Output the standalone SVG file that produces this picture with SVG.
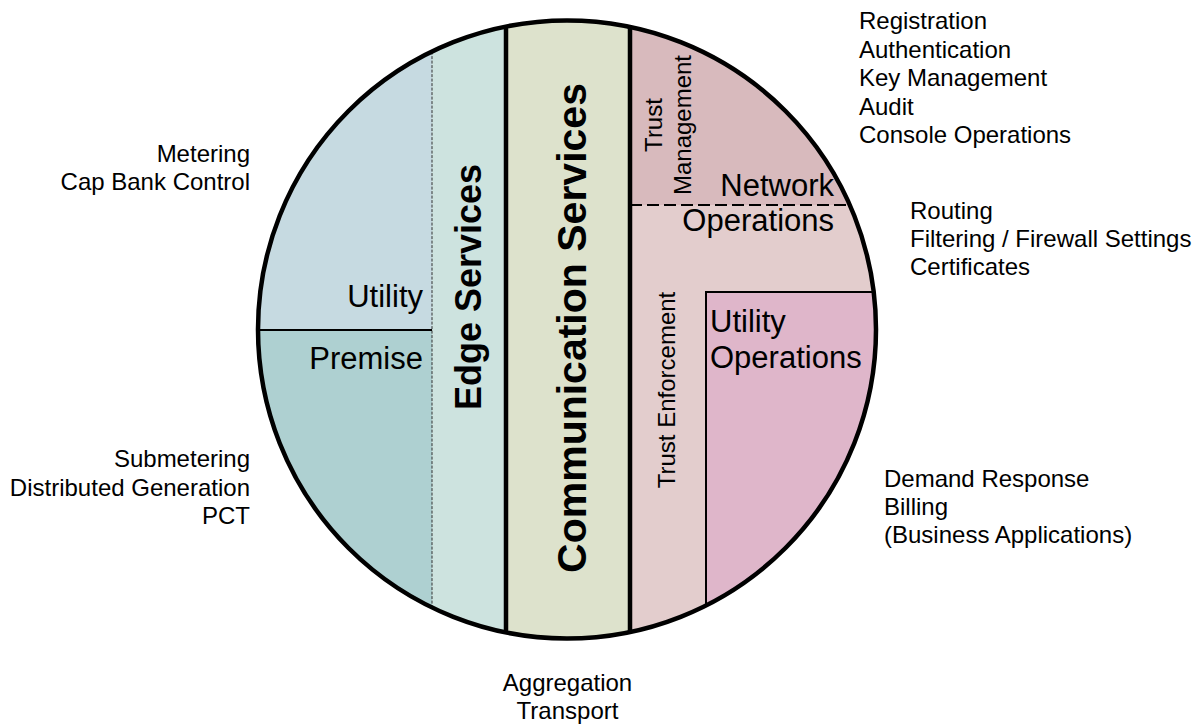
<svg xmlns="http://www.w3.org/2000/svg" width="1193" height="725" viewBox="0 0 1193 725">
  <defs>
    <clipPath id="disc">
      <circle cx="567" cy="329.5" r="309"/>
    </clipPath>
  </defs>
  <style>
    text { font-family: "Liberation Sans", Arial, Helvetica, sans-serif; fill: #000; }
    .list { font-size: 24px; }
    .mid { font-size: 31px; }
    .trust { font-size: 24px; }
    .bold { font-weight: bold; }
    .end { text-anchor: end; }
    .mid-anchor { text-anchor: middle; }
    .thick { stroke: #000; stroke-width: 4.5; fill: none; }
    .thin { stroke: #000; stroke-width: 2; fill: none; }
    .hair { stroke: #333; stroke-width: 1; stroke-dasharray: 3 1.5; fill: none; }
    .dash { stroke: #000; stroke-width: 2; stroke-dasharray: 12 5; fill: none; }
  </style>

  <rect width="1193" height="725" fill="#ffffff"/>

  <!-- filled sectors of the disc -->
  <g clip-path="url(#disc)">
    <g id="utility">
      <rect x="250" y="10" width="182" height="320" fill="#c6dae1"/>
    </g>
    <g id="premise">
      <rect x="250" y="330" width="182" height="320" fill="#aed0d1"/>
    </g>
    <g id="edge-services">
      <rect x="432" y="10" width="74" height="640" fill="#cde3df"/>
    </g>
    <g id="communication-services">
      <rect x="506" y="10" width="124" height="640" fill="#dde2cc"/>
    </g>
    <g id="trust-management">
      <rect x="630" y="10" width="260" height="195" fill="#d8babd"/>
    </g>
    <g id="network-operations">
      <rect x="630" y="205" width="260" height="445" fill="#e3cdcd"/>
    </g>
    <g id="utility-operations">
      <rect x="706" y="292" width="184" height="358" fill="#dfb6ca"/>
    </g>
  </g>

  <!-- dividers between sectors -->
  <g id="connectors">
    <line class="hair" x1="432" y1="51.6" x2="432" y2="607.4"/>
    <line class="thin" x1="258" y1="330" x2="432" y2="330"/>
    <line class="thick" x1="506" y1="27" x2="506" y2="633"/>
    <line class="thick" x1="630" y1="27" x2="630" y2="632"/>
    <line class="dash" x1="630" y1="205" x2="850" y2="205"/>
    <polyline class="thin" points="706,606 706,292 874,292"/>
  </g>

  <!-- outline of the disc -->
  <circle cx="567" cy="329.5" r="309" fill="none" stroke="#000" stroke-width="4.5"/>

  <!-- labels inside the disc -->
  <g id="labels-inner">
    <text class="mid end" x="423" y="307">Utility</text>
    <text class="mid end" x="423" y="369">Premise</text>
    <text class="bold mid-anchor" font-size="36" transform="translate(481,287) rotate(-90)">Edge Services</text>
    <text class="bold mid-anchor" font-size="41" transform="translate(586,328) rotate(-90)">Communication Services</text>
    <text class="trust mid-anchor" transform="translate(662,125) rotate(-90)">Trust</text>
    <text class="trust mid-anchor" transform="translate(690.5,125) rotate(-90)">Management</text>
    <text class="trust mid-anchor" transform="translate(675,390) rotate(-90)">Trust Enforcement</text>
    <text class="mid end" x="834" y="196">Network</text>
    <text class="mid end" x="834" y="231">Operations</text>
    <text class="mid" x="710" y="332">Utility</text>
    <text class="mid" x="710" y="368">Operations</text>
  </g>

  <!-- service lists around the disc -->
  <g id="labels-outer" class="list">
    <text x="859" y="29">Registration</text>
    <text x="859" y="58">Authentication</text>
    <text x="859" y="86">Key Management</text>
    <text x="859" y="115">Audit</text>
    <text x="859" y="143">Console Operations</text>

    <text x="910" y="219">Routing</text>
    <text x="910" y="247">Filtering / Firewall Settings</text>
    <text x="910" y="275">Certificates</text>

    <text class="end" x="250" y="162">Metering</text>
    <text class="end" x="250" y="190">Cap Bank Control</text>

    <text class="end" x="250" y="467">Submetering</text>
    <text class="end" x="250" y="496">Distributed Generation</text>
    <text class="end" x="250" y="524">PCT</text>

    <text x="884" y="487">Demand Response</text>
    <text x="884" y="515">Billing</text>
    <text x="884" y="543">(Business Applications)</text>

    <text class="mid-anchor" x="567.5" y="691">Aggregation</text>
    <text class="mid-anchor" x="567.5" y="719">Transport</text>
  </g>
</svg>
